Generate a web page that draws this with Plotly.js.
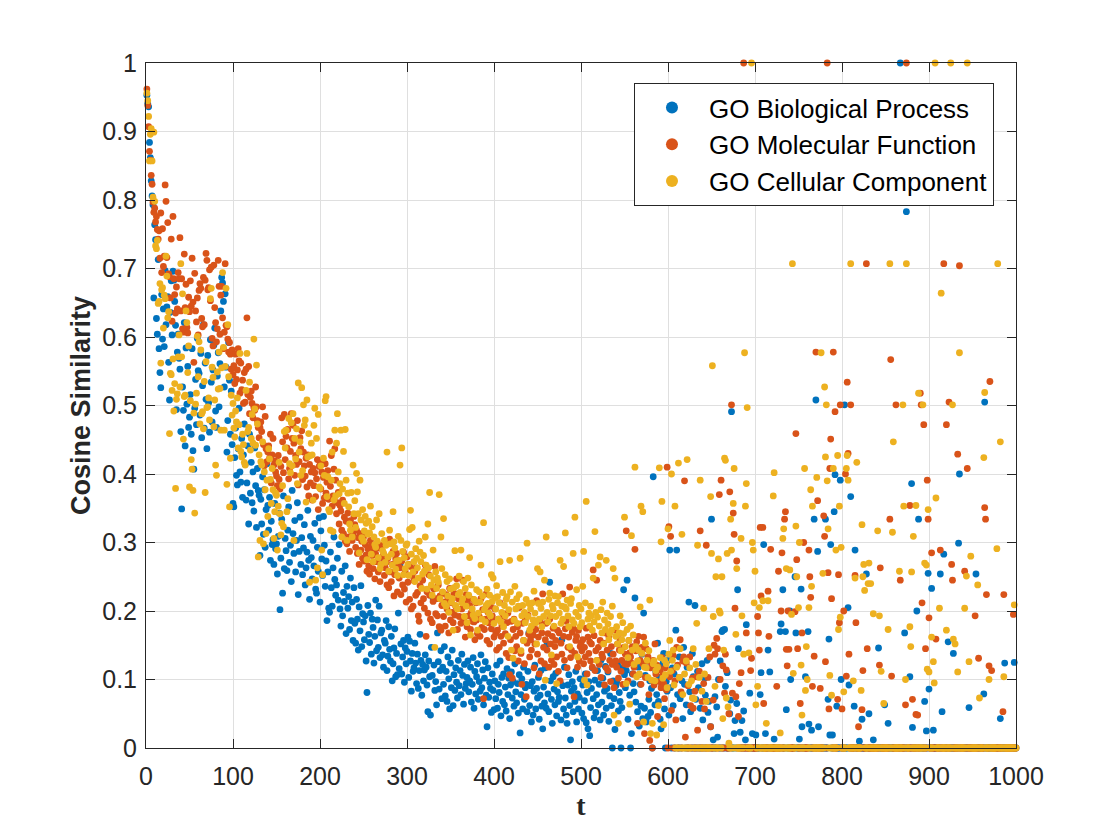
<!DOCTYPE html>
<html>
<head>
<meta charset="utf-8">
<script src="https://cdn.plot.ly/plotly-3.0.1.min.js"></script>
<style>html,body{margin:0;padding:0;background:#fff;}#chart{width:1120px;height:840px;}</style>
</head>
<body>
<div id="chart"></div>
<script>
// Series names
const seriesNames = ['GO Biological Process', 'GO Molecular Function', 'GO Cellular Component'];
const seriesColors = ['#0072BD', '#D95319', '#EDB120'];

// Tick positions / labels
const xTickVals = [0, 100, 200, 300, 400, 500, 600, 700, 800, 900, 1000];
const xTickText = ['0', '100', '200', '300', '400', '500', '600', '700', '800', '900', '1000'];
const yTickVals = [0, 0.1, 0.2, 0.3, 0.4, 0.5, 0.6, 0.7, 0.8, 0.9, 1];
const yTickText = ['0', '0.1', '0.2', '0.3', '0.4', '0.5', '0.6', '0.7', '0.8', '0.9', '1'];

// Cosine similarity at t = 1..1000
const bp = [
.953,.941,.936,.884,.862,.828,.806,.793,.657,.764,
.742,.627,.604,.713,.583,.548,.526,.662,.597,.641,
.586,.697,.618,.644,.659,.563,.508,.636,.682,.603,
.696,.683,.652,.617,.494,.578,.604,.569,.553,.462,
.349,.527,.493,.621,.441,.584,.502,.557,.468,.483,
.516,.458,.583,.434,.407,.496,.538,.472,.598,.551,
.547,.486,.576,.453,.529,.618,.467,.562,.509,.437,
.573,.504,.461,.596,.534,.476,.552,.588,.613,.492,
.468,.543,.577,.498,.561,.638,.687,.679,.652,.527,
.663,.556,.432,.478,.592,.537,.458,.521,.443,.357,
.352,.424,.467,.398,.384,.437,.496,.403,.388,.452,
.366,.428,.473,.414,.362,.387,.441,.327,.458,.372,
.417,.358,.403,.346,.438,.383,.322,.408,.376,.369,
.281,.363,.327,.396,.312,.377,.293,.348,.415,.354,
.318,.366,.274,.331,.297,.304,.268,.357,.291,.298,
.254,.309,.343,.202,.277,.334,.226,.368,.262,.306,
.288,.259,.318,.352,.271,.296,.243,.376,.313,.284,
.332,.257,.303,.358,.224,.287,.337,.268,.307,.253,
.292,.326,.238,.263,.286,.347,.274,.217,.309,.278,
.247,.303,.266,.328,.232,.226,.293,.258,.336,.213,
.317,.276,.252,.338,.296,.236,.273,.186,.257,.204,
.198,.286,.234,.207,.263,.308,.246,.223,.238,.277,
.216,.297,.203,.178,.258,.193,.227,.214,.266,.167,
.236,.204,.221,.173,.248,.186,.213,.157,.234,.182,
.153,.217,.188,.143,.206,.171,.237,.148,.196,.184,
.158,.193,.127,.081,.208,.166,.154,.197,.137,.188,
.176,.124,.163,.216,.142,.187,.147,.207,.132,.168,
.172,.136,.118,.157,.153,.186,.113,.134,.177,.144,
.127,.163,.098,.123,.146,.174,.104,.138,.107,.197,
.116,.268,.152,.108,.133,.157,.096,.146,.123,.141,
.162,.103,.156,.127,.083,.138,.112,.117,.153,.124,
.094,.137,.087,.113,.166,.128,.077,.122,.098,.114,
.136,.118,.092,.053,.127,.104,.048,.147,.106,.218,
.121,.084,.097,.063,.168,.126,.086,.113,.142,.072,
.118,.093,.148,.076,.112,.068,.133,.101,.057,.124,
.088,.143,.062,.107,.084,.117,.096,.073,.128,.091,
.113,.078,.137,.106,.064,.122,.087,.094,.103,.127,
.082,.098,.118,.067,.093,.132,.058,.112,.079,.104,
.123,.071,.097,.083,.136,.088,.114,.063,.102,.126,
.077,.031,.117,.074,.096,.087,.052,.108,.084,.056,
.098,.072,.121,.058,.093,.081,.127,.047,.103,.068,
.108,.063,.089,.054,.116,.078,.102,.043,.092,.111,
.073,.097,.061,.123,.082,.066,.094,.051,.107,.022,
.078,.101,.057,.118,.071,.088,.093,.053,.112,.168,
.062,.091,.038,.097,.048,.083,.121,.057,.087,.073,
.103,.042,.077,.113,.061,.028,.089,.066,.117,.058,
.152,.079,.053,.242,.098,.071,.036,.104,.086,.063,
.109,.047,.082,.068,.074,.096,.041,.158,.091,.057,
.118,.073,.048,.036,.092,.107,.062,.012,.083,.097,
.053,.088,.068,.112,.038,.079,.057,.074,.101,.148,
.051,.092,.043,.069,.108,.037,.081,.028,.097,.018,
.059,.087,.117,.072,.044,.099,.052,.078,.113,.063,
.093,.041,.128,.067,.102,.048,.083,.119,.058,.087,
.111,.039,.076,.138,.062,0,.098,.072,.027,.091,
.096,.122,.054,.081,.068,0,.059,.117,.231,.107,
.088,.113,.245,.042,.126,.077,0,.021,.108,.094,
.082,.219,.067,.147,.053,.118,.032,.093,.061,.137,
.043,.197,.058,.106,.038,.127,.046,.071,.098,.052,
.087,0,.396,.118,.063,.112,.078,.153,.068,.103,
.042,.028,.091,.123,.138,.057,0,.097,.083,.128,
.048,.289,.088,0,.117,.062,.108,0,.172,.289,
.078,0,.133,.072,0,.098,.043,.147,.093,0,
.063,.118,0,.213,.082,.053,0,.138,.104,0,
.208,.071,0,.112,.088,0,.058,0,.123,.041,
0,.102,.077,0,.128,.052,.068,0,.031,.334,
0,.012,0,.075,0,.06,.016,.10,0,.127,
0,.17,.172,0,.173,.09,0,.11,0,0,
.05,.07,.491,0,0,.021,.04,0,.065,.231,
.145,0,.023,0,.04,0,.054,0,.012,.18,
0,0,0,.08,0,0,.021,0,0,0,
.019,0,0,0,0,.078,.11,0,0,.297,
0,.021,0,0,.143,0,.111,0,0,0,
0,.013,0,0,0,0,0,0,.17,.181,
0,.231,0,0,.17,.056,0,0,0,.2,
.10,0,0,0,0,.25,.168,0,0,0,
.013,0,.232,.031,0,0,0,.104,0,0,
.17,.035,0,0,.026,0,0,.334,0,.508,
0,.287,.031,0,0,0,0,0,0,0,
.334,0,0,.071,.159,.019,.297,0,.019,0,
.345,.399,0,.061,0,0,0,.391,.10,0,
0,0,.501,0,0,0,.205,.092,0,.367,
0,0,0,.061,.289,0,0,0,0,.01,
0,0,.042,0,0,0,0,.254,0,0,
.05,0,0,0,0,.012,0,0,0,0,
0,.146,0,0,0,0,0,0,.063,0,
0,0,.036,0,0,0,0,0,0,0,
0,0,0,0,0,0,1,0,0,0,
0,.168,0,.783,0,0,0,.104,0,.386,
.03,0,0,0,0,.2,0,.334,0,0,
0,0,0,0,.068,0,.025,0,.255,.086,
0,0,.233,0,.026,0,0,0,0,0,
0,0,.254,0,.053,0,.283,0,0,0,
0,.155,0,0,0,0,0,.138,0,0,
0,0,0,.299,.40,0,0,0,0,0,
0,0,0,0,0,.059,0,0,0,0,
0,0,0,.254,0,0,0,0,0,0,
0,0,.079,.505,0,0,0,0,0,0,
0,0,0,0,0,0,0,0,0,0,
0,.043,0,0,0,0,.124,0,0,0,
0,0,0,0,0,0,0,.125,0,0
];

const mf = [
.962,.938,.907,.871,.858,.836,.823,.797,.782,.788,
.768,.776,.757,.743,.755,.715,.781,.694,.758,.703,
.718,.822,.798,.716,.767,.692,.688,.657,.743,.623,
.776,.685,.662,.635,.673,.641,.694,.685,.745,.638,
.685,.612,.607,.721,.643,.677,.614,.606,.658,.637,
.682,.645,.715,.651,.563,.693,.638,.622,.657,.603,
.668,.678,.671,.627,.615,.687,.618,.683,.722,.712,
.669,.672,.698,.653,.702,.598,.587,.705,.643,.621,
.593,.612,.712,.674,.604,.661,.674,.628,.583,.607,
.707,.617,.615,.597,.578,.592,.575,.553,.581,.545,
.558,.532,.575,.538,.552,.583,.565,.518,.562,.523,
.537,.503,.548,.505,.553,.628,.516,.557,.488,.512,
.521,.503,.482,.497,.493,.527,.498,.478,.468,.453,
.468,.476,.462,.498,.443,.412,.484,.437,.418,.432,
.441,.423,.458,.387,.428,.452,.413,.419,.403,.397,
.383,.427,.392,.378,.411,.482,.447,.402,.487,.421,
.455,.438,.465,.393,.408,.433,.488,.452,.471,.445,
.398,.427,.414,.478,.384,.418,.453,.437,.463,.392,
.432,.412,.397,.423,.381,.428,.368,.414,.387,.403,
.362,.408,.383,.402,.367,.393,.421,.348,.411,.418,
.378,.403,.357,.395,.365,.415,.372,.388,.405,.363,
.448,.382,.427,.353,.368,.407,.437,.391,.342,.358,
.373,.327,.354,.346,.318,.362,.313,.337,.302,.331,
.298,.343,.308,.287,.332,.317,.303,.312,.338,.326,
.293,.318,.284,.307,.268,.313,.289,.302,.277,.308,
.273,.297,.282,.258,.291,.266,.254,.303,.296,.281,
.262,.288,.247,.283,.272,.298,.257,.292,.243,.268,
.278,.296,.283,.252,.263,.271,.238,.277,.234,.305,
.257,.243,.268,.287,.222,.253,.276,.284,.228,.265,
.248,.263,.224,.273,.238,.286,.232,.257,.213,.279,
.242,.268,.217,.265,.203,.252,.207,.244,.258,.223,
.263,.227,.193,.185,.237,.212,.248,.245,.218,.204,
.267,.163,.228,.197,.253,.223,.188,.236,.183,.214,
.232,.265,.196,.218,.193,.238,.177,.222,.172,.208,
.227,.192,.213,.178,.224,.203,.217,.168,.233,.187,
.212,.198,.183,.226,.194,.207,.247,.173,.218,.192,
.217,.182,.203,.245,.188,.213,.162,.224,.177,.217,
.193,.208,.173,.198,.185,.217,.184,.158,.212,.187,
.167,.213,.192,.163,.218,.176,.202,.072,.173,.188,
.225,.157,.198,.183,.152,.207,.174,.193,.186,.162,
.203,.168,.143,.172,.188,.147,.212,.163,.178,.196,
.153,.192,.167,.138,.183,.197,.132,.107,.158,.185,
.102,.173,.188,.142,.163,.148,.177,.127,.205,.168,
.138,.093,.182,.157,.123,.187,.075,.153,.194,.166,
.133,.158,.143,.178,.165,.117,.152,.173,.215,.137,
.162,.108,.185,.127,.168,.225,.147,.123,.158,.182,
.143,.167,.118,.188,.152,.128,.163,.175,.122,.148,
.157,.133,.172,.112,.168,.098,.153,.137,.225,.163,
.128,.174,.185,.117,.147,.162,.235,.132,.143,.169,
.175,.075,.138,.157,.163,.118,.172,.127,.148,.153,
.142,.158,.123,.147,.133,.175,.108,.162,.138,.155,
.127,.152,.118,.26,.164,.113,.142,.245,.128,.147,
.122,.157,.103,.137,.132,.153,.092,.168,.117,.143,
.113,.163,.128,.097,.148,.122,.137,.088,.172,.127,
.118,.152,.102,.143,.158,.112,.128,.093,.147,.123,
.137,.317,.122,.098,.157,.139,.133,.124,.148,.108,
.118,.29,.142,.155,.036,.163,.107,.128,.093,.147,
.123,.162,.021,.103,.145,.127,.133,.078,.011,.117,
.124,0,.128,.092,.152,.108,.121,.046,.118,.097,
.114,.088,.132,.107,.094,.072,.117,.085,.41,0,
.323,.104,.309,.055,.113,.135,0,.098,.041,.147,
.121,0,.103,.158,.082,0,.127,.133,.39,.016,
.124,0,.091,0,.133,.062,0,.102,.058,0,
.083,0,.104,.026,0,.112,.317,0,.068,0,
.094,.057,0,.296,0,.103,0,.133,.031,0,
0,.07,.15,.137,0,.16,.145,0,.37,.10,
.391,0,.12,0,.08,.137,.114,0,0,.05,
.374,0,.501,.08,.343,.312,.204,.075,.273,0,
.046,.094,0,.11,0,0,1,0,0,.168,
0,0,0,0,.113,.131,0,0,0,0,
0,0,.192,.168,.143,.322,.222,0,.322,.065,
0,0,0,0,.229,.163,0,.29,0,0,
0,0,0,0,.09,0,.258,0,0,.2,
.285,0,0,.334,.345,.144,.12,.2,.144,0,
0,0,0,0,0,.199,.459,.275,.145,0,
0,.065,0,.168,0,.30,0,0,0,0,
0,.289,.25,.22,0,.09,0,.134,0,.578,
0,.361,0,0,.087,0,0,0,.339,.309,
.126,0,1,.256,.057,.408,.451,.218,0,.578,
0,.491,0,0,.071,.253,.183,.501,0,.057,
0,.2,0,.40,.105,.534,.43,.137,0,.501,
0,0,0,0,.252,.183,0,0,.031,0,
0,0,.056,.113,0,0,0,.707,.145,0,
0,0,0,0,0,0,0,0,0,0,
0,0,.121,.263,0,0,0,0,0,0,
0,0,0,0,.334,.567,.105,0,0,0,
0,.501,0,0,0,0,.245,0,0,0,
0,0,.063,1,0,0,0,.354,0,0,
.071,0,0,0,.049,0,.048,0,0,.518,
.501,.212,0,.472,0,.145,0,.391,.334,.19,
0,0,.285,0,0,0,0,.159,0,0,
0,0,.289,0,0,0,.707,0,0,.472,
0,0,.505,0,0,.268,.245,0,0,0,
0,0,.429,0,.704,0,0,0,0,0,
.258,0,0,.408,0,0,0,0,0,0,
0,0,.193,0,0,0,.131,0,0,0,
0,0,0,.351,.334,.224,0,0,.12,.535,
0,.113,0,0,0,0,0,0,0,0,
0,0,0,0,.053,.224,0,0,0,0,
0,0,0,0,0,0,.195,0,0,0
];

const cc = [
.956,.945,.922,.857,.896,.904,.857,.804,.899,.798,
.733,.729,.741,.649,.652,.678,.562,.669,.672,.613,
.661,.656,.718,.689,.628,.637,.459,.547,.545,.522,
.568,.492,.532,.379,.509,.517,.571,.603,.527,.707,
.571,.663,.451,.513,.515,.638,.621,.548,.587,.381,
.507,.421,.407,.376,.489,.343,.502,.518,.601,.542,
.593,.473,.581,.488,.491,.466,.535,.373,.564,.497,
.498,.511,.479,.656,.671,.556,.541,.469,.508,.413,
.398,.549,.524,.578,.525,.464,.555,.694,.585,.464,
.557,.671,.385,.618,.542,.352,.423,.515,.486,.503,
.467,.454,.492,.476,.511,.438,.472,.576,.433,.425,
.458,.443,.417,.413,.522,.576,.462,.468,.534,.435,
.452,.487,.445,.597,.495,.442,.559,.473,.279,.428,
.303,.418,.413,.447,.298,.403,.377,.313,.391,.338,
.437,.422,.392,.357,.408,.377,.306,.345,.372,.369,
.289,.353,.417,.342,.311,.328,.383,.323,.462,.438,
.464,.345,.364,.481,.415,.402,.475,.412,.488,.303,
.452,.422,.466,.386,.533,.432,.447,.398,.526,.405,
.501,.471,.479,.359,.508,.425,.459,.242,.427,.445,
.428,.362,.471,.496,.245,.452,.263,.487,.381,.379,
.412,.289,.253,.423,.398,.507,.513,.367,.396,.348,
.345,.318,.391,.432,.316,.362,.464,.368,.445,.488,
.403,.371,.386,.464,.308,.378,.433,.357,.465,.391,
.303,.372,.352,.327,.318,.373,.308,.413,.342,.361,
.322,.401,.374,.342,.285,.391,.333,.307,.348,.302,
.317,.338,.328,.275,.312,.331,.314,.353,.283,.323,
.272,.308,.297,.293,.333,.302,.278,.342,.262,.268,
.313,.288,.285,.303,.271,.296,.432,.279,.258,.318,
.298,.283,.267,.345,.301,.292,.261,.273,.252,.309,
.274,.413,.303,.438,.287,.253,.278,.262,.296,.298,
.268,.252,.319,.347,.283,.322,.257,.272,.243,.291,
.277,.263,.248,.302,.286,.272,.233,.254,.281,.258,
.308,.267,.232,.327,.263,.373,.251,.238,.223,.289,
.245,.147,.257,.233,.248,.242,.37,.218,.308,.262,
.228,.335,.211,.253,.207,.243,.222,.198,.247,.232,
.213,.218,.172,.234,.288,.208,.237,.203,.224,.251,
.227,.289,.212,.218,.243,.192,.233,.207,.183,.248,
.223,.278,.165,.238,.203,.194,.217,.189,.213,.231,
.172,.197,.228,.213,.267,.188,.222,.329,.202,.184,
.208,.232,.211,.197,.223,.193,.253,.214,.248,.182,
.219,.203,.237,.221,.188,.212,.272,.184,.198,.227,
.177,.208,.193,.217,.221,.163,.202,.274,.228,.143,
.213,.131,.187,.236,.203,.218,.182,.207,.224,.277,
.142,.193,.208,.157,.198,.183,.217,.299,.192,.211,
.172,.203,.178,.212,.187,.229,.197,.183,.152,.262,
.211,.188,.257,.204,.177,.213,.192,.245,.099,.308,
.198,.184,.217,.226,.193,.136,.208,.203,.178,.222,
.192,.094,.212,.221,.197,.274,.182,.207,.188,.265,
.206,.314,.203,.216,.193,.177,.148,.211,.218,.187,
.284,.182,.337,.198,.231,.133,.192,.208,.177,.203,
.183,.236,.287,.099,.212,.36,.092,.188,.197,.178,
.207,.193,.172,.248,.184,.316,.198,.128,.191,.267,
.178,.279,.202,.168,.213,.152,.187,.173,.274,.197,
.181,.158,.167,.192,.172,.207,.262,.048,.248,.163,
.177,.152,.036,.168,.193,.142,.158,.183,.167,.337,
.148,.094,.173,.132,.157,.064,.178,.31,.143,.165,
.122,.41,.148,.104,.127,.143,.108,.206,.353,.138,
.345,.038,.118,.153,.117,.128,.103,.142,.216,.021,
.099,.036,.123,.127,.098,.113,.019,.118,.062,.409,
.132,.301,.36,.102,.034,.128,.107,.123,.088,.32,
.137,.157,.112,.40,.128,.143,.092,.353,0,.118,
0,.416,.103,.145,0,.312,.078,0,.108,0,
.127,.421,0,.093,.117,0,.098,.073,.145,.072,
0,.122,.182,.296,0,.103,.391,0,.083,0,
.204,.108,0,.068,0,0,.145,0,.367,.284,
.558,.192,0,.09,.25,0,0,.276,.2,.197,
0,.25,.043,.143,.423,.42,.073,.284,.06,.007,
0,.334,.289,0,.357,.408,0,.166,.262,0,
0,0,0,.306,.193,0,.137,.577,.353,.386,
.497,0,.139,0,0,1,.30,.289,.212,.258,
.063,0,.09,0,.205,0,0,0,.215,0,
0,0,.036,0,.215,0,0,0,0,0,
.368,.402,0,0,0,0,0,0,.022,0,
0,.306,.32,0,0,.262,0,0,0,.26,
0,.195,.707,.109,0,0,.324,.25,0,.205,
.30,0,.121,.048,0,0,.408,.084,.148,.10,
0,.205,0,.377,.236,.353,0,0,0,0,
.395,0,0,0,0,.577,0,.255,0,.527,
.425,.501,.39,.32,0,.106,0,.077,0,.408,
0,0,.289,0,.427,.173,.353,.191,.293,0,
0,.082,0,0,.408,.427,.391,0,0,.707,
0,0,.098,0,.248,0,.417,0,0,0,
0,.084,.326,.25,.268,.23,0,0,0,.24,
.27,0,.24,0,0,.196,0,0,0,0,
.317,0,.193,0,.112,0,0,.065,0,0,
0,0,.173,0,.707,0,0,.315,.447,0,
0,0,0,0,0,.258,0,0,0,.501,
.353,0,.10,.707,0,0,0,.177,.148,.257,
0,.309,0,0,.354,0,0,.518,0,0,
0,0,.501,0,.27,0,.267,.115,.348,.111,
0,0,.162,0,.126,.095,1,.365,0,0,
0,.204,0,.664,0,0,0,0,0,.172,
0,0,0,0,1,0,.501,.159,0,.152,
0,0,.111,0,.577,0,0,0,0,0,
.204,0,.251,1,0,.126,0,.28,0,0,
0,0,0,0,0,.238,0,.073,0,0,
0,0,.424,.519,0,0,0,0,.10,0,
0,0,0,0,0,0,0,.291,.707,0,
0,.447,0,0,0,.104,0,0,0,0,
0,0,0,0,0,0,0,.209,0,0
];

// iteration index t = 1..N
const t = bp.map((_, i) => i + 1);

const seriesValues = [bp, mf, cc];
const traces = seriesValues.map((vals, k) => ({
  type: 'scatter',
  mode: 'markers',
  x: t,
  y: vals,
  name: seriesNames[k],
  cliponaxis: false,
  marker: { color: seriesColors[k], size: 6.8, line: { width: 0 } },
  hoverinfo: 'x+y+name'
}));

const axisCommon = {
  showline: true,
  linecolor: '#262626',
  linewidth: 1,
  mirror: 'ticks',
  ticks: 'inside',
  ticklen: 9,
  tickwidth: 1,
  tickcolor: '#262626',
  showgrid: true,
  gridcolor: '#dfdfdf',
  gridwidth: 1,
  zeroline: false,
  tickfont: { family: 'Liberation Sans, Arial, Helvetica, sans-serif', size: 25, color: '#262626' }
};

const layout = {
  width: 1120,
  height: 840,
  margin: { l: 146, r: 104, t: 63, b: 92, pad: 0 },
  paper_bgcolor: '#ffffff',
  plot_bgcolor: '#ffffff',
  font: { family: 'Liberation Sans, Arial, Helvetica, sans-serif', size: 25, color: '#262626' },
  showlegend: true,
  xaxis: Object.assign({}, axisCommon, {
    range: [0, 1000],
    tickmode: 'array',
    tickvals: xTickVals,
    ticktext: xTickText,
    ticklabelstandoff: 6,
    title: { text: 't', font: { family: 'Liberation Serif, DejaVu Serif, serif', size: 28, weight: 'bold', color: '#262626' }, standoff: 0 }
  }),
  yaxis: Object.assign({}, axisCommon, {
    range: [0, 1],
    tickmode: 'array',
    tickvals: yTickVals,
    ticktext: yTickText,
    ticklabelstandoff: 3,
    title: { text: 'Cosine Similarity', font: { family: 'Liberation Sans, Arial, Helvetica, sans-serif', size: 27, weight: 'bold', color: '#262626' }, standoff: 3 }
  }),
  legend: {
    x: 0.9747,
    xanchor: 'right',
    y: 0.9708,
    yanchor: 'top',
    bgcolor: '#ffffff',
    bordercolor: '#262626',
    borderwidth: 1,
    itemsizing: 'constant',
    itemwidth: 64,
    font: { family: 'Liberation Sans, Arial, Helvetica, sans-serif', size: 26, color: '#000000' }
  }
};

Plotly.newPlot('chart', traces, layout, { displayModeBar: false, staticPlot: true });
</script>
</body>
</html>
